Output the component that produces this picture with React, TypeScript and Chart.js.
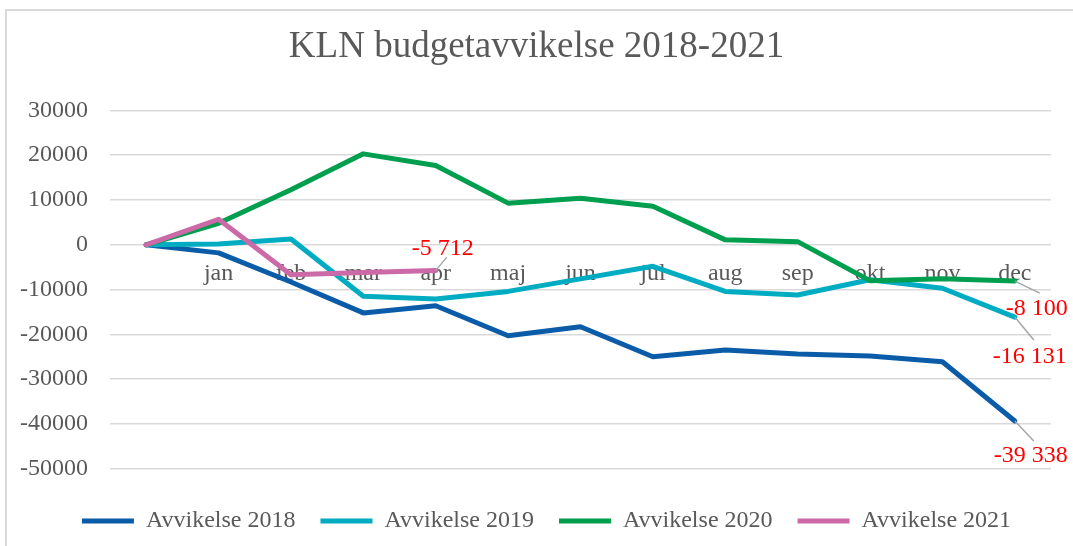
import React, { useEffect, useRef } from 'react';
import { Chart, registerables } from 'chart.js';

Chart.register(...registerables);

const categories = ['', 'jan', 'feb', 'mar', 'apr', 'maj', 'jun', 'jul', 'aug', 'sep', 'okt', 'nov', 'dec'];
const avvikelse2018 = [0, -1800, -8300, -15200, -13600, -20300, -18300, -25000, -23500, -24400, -24800, -26100, -39338];
const avvikelse2019 = [0, 200, 1300, -11500, -12100, -10400, -7600, -4800, -10400, -11200, -7800, -9700, -16131];
const avvikelse2020 = [0, 4800, 12300, 20300, 17700, 9300, 10400, 8600, 1100, 700, -8000, -7600, -8100];
const avvikelse2021 = [0, 5700, -6700, -6200, -5712, null, null, null, null, null, null, null, null];
const seriesNames = ['Avvikelse 2018', 'Avvikelse 2019', 'Avvikelse 2020', 'Avvikelse 2021'];
const yMin = -50000;
const yMax = 30000;
const yStep = 10000;

const FONT = "'Liberation Serif', 'Times New Roman', serif";
const GREY = '#595959';

const fmt = (v: number) => {
  const s = Math.abs(Math.round(v)).toString().replace(/\B(?=(\d{3})+(?!\d))/g, ' ');
  return (v < 0 ? '-' : '') + s;
};

const endLabels = {
  id: 'endLabels',
  afterDatasetsDraw(chart: any, _args: any, opts: any) {
    const ctx = chart.ctx;
    ctx.save();
    (opts.items || []).forEach((it: any) => {
      const data = chart.data.datasets[it.dataset].data as (number | null)[];
      let idx = data.length - 1;
      while (idx >= 0 && data[idx] == null) idx--;
      if (idx < 0) return;
      const el = chart.getDatasetMeta(it.dataset).data[idx];
      const x = el.x;
      const y = el.y;
      ctx.strokeStyle = '#A6A6A6';
      ctx.lineWidth = 1.5;
      ctx.beginPath();
      ctx.moveTo(x, y);
      ctx.lineTo(x + it.lx, y + it.ly);
      ctx.stroke();
      ctx.fillStyle = '#FF0000';
      ctx.font = `24px ${FONT}`;
      ctx.textAlign = 'center';
      ctx.textBaseline = 'alphabetic';
      ctx.fillText(fmt(data[idx] as number), x + it.dx, y + it.dy);
    });
    ctx.restore();
  },
};

// shift full-width boxes (title, legend) horizontally after layout
const boxShift = {
  id: 'boxShift',
  afterLayout(chart: any) {
    if (chart.titleBlock) {
      chart.titleBlock.left = 0;
      chart.titleBlock.right = chart.width;
      chart.titleBlock.width = chart.width;
    }
    if (chart.legend) {
      chart.legend.left = 42;
      chart.legend.width = chart.legend.right - 42;
    }
  },
};

export default function App() {
  const ref = useRef<HTMLCanvasElement | null>(null);

  useEffect(() => {
    if (!ref.current) return;
    const chart = new Chart(ref.current, {
      type: 'line',
      data: {
        labels: categories,
        datasets: [
          { label: seriesNames[0], data: avvikelse2018, borderColor: '#0B5CA8', backgroundColor: '#0B5CA8', order: 3 },
          { label: seriesNames[1], data: avvikelse2019, borderColor: '#00ACC1', backgroundColor: '#00ACC1', order: 2 },
          { label: seriesNames[2], data: avvikelse2020, borderColor: '#009E4F', backgroundColor: '#009E4F', order: 1 },
          { label: seriesNames[3], data: avvikelse2021, borderColor: '#CC69A7', backgroundColor: '#CC69A7', order: 0 },
        ].map((d) => ({
          ...d,
          borderWidth: 5,
          pointRadius: 0,
          pointHoverRadius: 0,
          tension: 0,
          fill: false,
          spanGaps: false,
          borderCapStyle: 'round',
          borderJoinStyle: 'round',
        })) as any,
      },
      options: {
        responsive: false,
        animation: false,
        devicePixelRatio: 1,
        layout: { padding: { top: 10, right: 22, bottom: 3, left: 0 } },
        plugins: {
          title: {
            display: true,
            text: 'KLN budgetavvikelse 2018-2021',
            color: GREY,
            font: { family: FONT, size: 37, weight: 'normal' },
            padding: { top: 15, bottom: 41 },
          },
          legend: {
            display: true,
            position: 'bottom',
            title: { display: true, text: '', font: { size: 1 }, padding: { top: 14, bottom: 0 } },
            labels: {
              color: GREY,
              font: { family: FONT, size: 24 },
              usePointStyle: true,
              pointStyle: 'line',
              pointStyleWidth: 52,
              padding: 25,
              sort: (a: any, b: any) => a.datasetIndex - b.datasetIndex,
            },
          },
          tooltip: { enabled: false },
          endLabels: {
            items: [
              { dataset: 3, dx: 7, dy: -15, lx: 11, ly: -13 },
              { dataset: 2, dx: 22, dy: 34, lx: 25, ly: 12 },
              { dataset: 1, dx: 15, dy: 46, lx: 19, ly: 23 },
              { dataset: 0, dx: 16, dy: 41, lx: 19, ly: 20 },
            ],
          },
        } as any,
        scales: {
          x: {
            type: 'category',
            offset: true,
            position: { y: 0 } as any,
            grid: { display: false },
            border: { display: false },
            ticks: {
              color: GREY,
              font: { family: FONT, size: 24 },
              padding: 7,
              autoSkip: false,
              maxRotation: 0,
            },
          },
          y: {
            min: yMin,
            max: yMax,
            grid: { color: '#D9D9D9', lineWidth: 1.5, drawTicks: false },
            border: { display: false },
            afterFit: (s: any) => { s.width = 110; },
            ticks: {
              stepSize: yStep,
              color: GREY,
              font: { family: FONT, size: 24 },
              padding: 22,
              callback: (v: any) => String(v),
            },
          },
        },
      },
      plugins: [endLabels, boxShift],
    });
    return () => chart.destroy();
  }, []);

  return (
    <div style={{ position: 'fixed', left: 0, top: 0, width: 1073, height: 546, overflow: 'hidden', background: '#fff' }}>
      <div style={{ position: 'absolute', left: 5, top: 9, width: 1200, height: 700, border: '2px solid #D9D9D9' }} />
      <canvas ref={ref} width={1073} height={546} style={{ position: 'absolute', left: 0, top: 0, width: 1073, height: 546 }} />
    </div>
  );
}
